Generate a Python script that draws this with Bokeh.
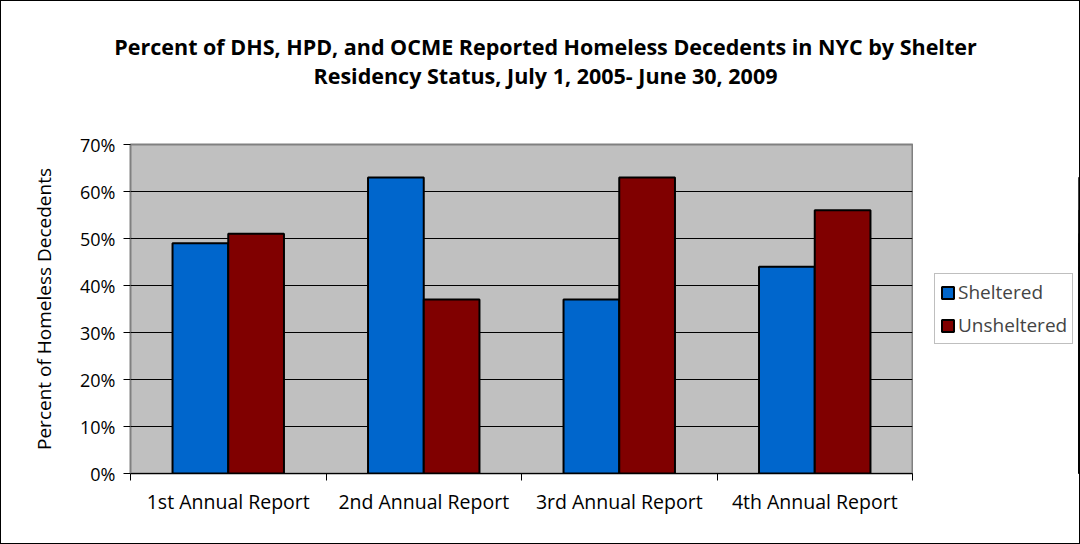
from bokeh.plotting import figure
from bokeh.layouts import row, column
from bokeh.models import Range1d, FixedTicker, NumeralTickFormatter, Legend, LegendItem, Label
from bokeh.embed import file_html
from bokeh.resources import INLINE
import numpy as np

categories = ["1st Annual Report", "2nd Annual Report", "3rd Annual Report", "4th Annual Report"]
sheltered = [0.49, 0.63, 0.37, 0.44]
unsheltered = [0.51, 0.37, 0.63, 0.56]
series_names = ["Sheltered", "Unsheltered"]
series_colors = ["#0066CC", "#800000"]
y_ticks = [0.0, 0.1, 0.2, 0.3, 0.4, 0.5, 0.6, 0.7]
title_lines = ["Percent of DHS, HPD, and OCME Reported Homeless Decedents in NYC by Shelter",
               "Residency Status, July 1, 2005- June 30, 2009"]

FONT = "Open Sans"
idx = np.arange(len(categories))
bw = 0.285
TOP_H = 100

# ---- title strip (its frame covers the whole strip, ranges in pixels)
tf = figure(width=1078, height=TOP_H, output_backend="svg", toolbar_location=None,
            x_axis_location=None, y_axis_location=None,
            x_range=Range1d(0, 1078), y_range=Range1d(TOP_H, 0),
            min_border_left=0, min_border_right=0, min_border_top=0, min_border_bottom=0)
tf.title = None
tf.grid.visible = False
tf.outline_line_color = None
tf.background_fill_color = "white"
tf.border_fill_color = "white"
for t, yb in zip(title_lines, [45, 74]):
    tf.add_layout(Label(x=544, y=yb, text=t, text_align="center", text_baseline="alphabetic",
                        text_font=FONT, text_font_size="21.5px", text_font_style="bold",
                        text_color="black"))

# ---- main chart
p = figure(width=912, height=542 - TOP_H, output_backend="svg", toolbar_location=None,
           x_range=Range1d(0, len(categories)), y_range=Range1d(0, 0.7),
           min_border_left=129, min_border_right=1, min_border_top=143 - TOP_H,
           min_border_bottom=70)
p.title = None
p.background_fill_color = "#C0C0C0"
p.border_fill_color = "white"
p.outline_line_color = "#808080"
p.outline_line_width = 2

b1 = p.vbar(x=idx + 0.5 - bw / 2, top=sheltered, width=bw, fill_color=series_colors[0],
            line_color="black", line_width=2)
b2 = p.vbar(x=idx + 0.5 + bw / 2, top=unsheltered, width=bw, fill_color=series_colors[1],
            line_color="black", line_width=2)

p.xaxis.ticker = FixedTicker(ticks=list(idx + 0.5), minor_ticks=list(range(len(categories) + 1)))
p.xaxis.major_label_overrides = {float(i + 0.5): c for i, c in enumerate(categories)}
p.xaxis.major_tick_out = 0
p.xaxis.major_tick_in = 0
p.xaxis.minor_tick_out = 7
p.xaxis.minor_tick_in = 0
p.xaxis.minor_tick_line_color = "black"
p.xaxis.axis_line_color = "black"
p.xaxis.major_label_standoff = 7
p.xaxis.major_label_text_font = FONT
p.xaxis.major_label_text_font_size = "19.5px"
p.xaxis.major_label_text_color = "black"

p.yaxis.ticker = FixedTicker(ticks=y_ticks, minor_ticks=[])
p.yaxis.formatter = NumeralTickFormatter(format="0%")
p.yaxis.major_tick_out = 7
p.yaxis.major_tick_in = 0
p.yaxis.major_tick_line_color = "black"
p.yaxis.minor_tick_out = 0
p.yaxis.axis_line_color = "#808080"
p.yaxis.major_label_standoff = 8
p.yaxis.major_label_text_font = FONT
p.yaxis.major_label_text_font_size = "18px"
p.yaxis.major_label_text_color = "black"
p.yaxis.axis_label = "Percent of Homeless Decedents"
p.yaxis.axis_label_text_font = FONT
p.yaxis.axis_label_text_font_size = "19px"
p.yaxis.axis_label_text_font_style = "normal"
p.yaxis.axis_label_text_color = "black"
p.yaxis.axis_label_standoff = 20

p.xgrid.grid_line_color = None
p.ygrid.grid_line_color = "black"
p.ygrid.ticker = FixedTicker(ticks=y_ticks)

# ---- legend panel: a second figure (its frame lines up with the chart's frame)
lg = figure(width=166, height=542 - TOP_H, output_backend="svg", toolbar_location=None,
            x_axis_location=None, y_axis_location=None,
            x_range=Range1d(-3, -2), y_range=Range1d(0, 0.7),
            min_border_left=0, min_border_right=0, min_border_top=0, min_border_bottom=0)
lg.title = None
lg.grid.visible = False
lg.outline_line_color = None
lg.background_fill_color = "white"
lg.border_fill_color = "white"
r1 = lg.vbar(x=idx + 0.5 - bw / 2, top=sheltered, width=bw, fill_color=series_colors[0],
             line_color="black", line_width=2)
r2 = lg.vbar(x=idx + 0.5 + bw / 2, top=unsheltered, width=bw, fill_color=series_colors[1],
             line_color="black", line_width=2)

legend = Legend(items=[LegendItem(label=series_names[0], renderers=[r1]),
                       LegendItem(label=series_names[1], renderers=[r2])],
                location=(21, 129), orientation="vertical")
legend.border_line_color = "#808080"
legend.border_line_width = 1
legend.background_fill_color = "white"
legend.background_fill_alpha = 1
legend.label_text_font = FONT
legend.label_text_font_size = "19px"
legend.glyph_width = 15
legend.glyph_height = 15
legend.label_standoff = 3
legend.spacing = 7
legend.padding = 5
legend.margin = 0
lg.add_layout(legend, "center")

layout = column(tf, row(p, lg), styles={"border": "1px solid black"})
open("out.html", "w").write(file_html(layout, INLINE))
